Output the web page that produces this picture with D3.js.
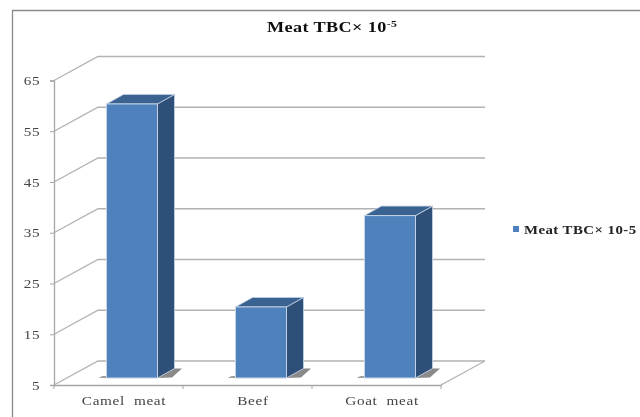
<!DOCTYPE html>
<html>
<head>
<meta charset="utf-8">
<script src="https://cdn.jsdelivr.net/npm/d3@7"></script>
<style>
  html, body { margin: 0; padding: 0; background: #fff; overflow: hidden; }
  svg { display: block; }
  text { font-family: "Liberation Serif", serif; }
</style>
</head>
<body>
<script>
var categories = ["Camel  meat", "Beef", "Goat  meat"];
var values = [59, 19, 37];
var yTicks = [5, 15, 25, 35, 45, 55, 65];
var seriesName = "Meat TBC\u00d7 10-5";

var width = 640, height = 417;
// depth of the 3d box: back wall offset and bar offset
var wallDx = 44, wallDy = -24;
var barDx = 17, barDy = -9.5;
var floorDx = 13.5, floorDy = -7;
var barWidth = 51;
var stretch = 1.22; // the picture's text is wider than it is tall

var xScale = d3.scaleBand().domain(categories).range([54, 441]);
var yScale = d3.scaleLinear().domain([5, 65]).range([385, 80.5]);

var svg = d3.select("body").append("svg")
  .attr("width", width)
  .attr("height", height);

var defs = svg.append("defs");
defs.append("filter").attr("id", "soft")
  .attr("x", "-5%").attr("y", "-5%").attr("width", "110%").attr("height", "110%")
  .append("feGaussianBlur").attr("stdDeviation", 0.5);
defs.append("filter").attr("id", "shadowBlur")
  .append("feGaussianBlur").attr("stdDeviation", 0.7);

var chart = svg.append("g").attr("filter", "url(#soft)");

// outer frame, runs off the picture at right and bottom
chart.append("path")
  .attr("d", "M12.5,430V10.5H660")
  .attr("fill", "none")
  .attr("stroke", "#8a8a8a")
  .attr("stroke-width", 1.3);

// title
var title = chart.append("text")
  .attr("transform", "translate(267,32) scale(1.3,1)")
  .attr("font-size", 14)
  .attr("font-weight", "bold")
  .attr("letter-spacing", 0.3)
  .attr("fill", "#111")
  .text("Meat TBC\u00d7 10");
title.append("tspan")
  .attr("dy", -5)
  .attr("font-size", 9)
  .text("-5");

// gridlines on side wall and back wall
var right = xScale.range()[1];
chart.append("g").selectAll("path").data(yTicks).enter()
  .append("path")
  .attr("d", function(d) {
    return "M54," + yScale(d) + "L" + (54 + wallDx) + "," + (yScale(d) + wallDy) + "H" + (right + wallDx);
  })
  .attr("fill", "none")
  .attr("stroke", "#b2b2b2")
  .attr("stroke-width", 1.3);

// floor edge on the right
chart.append("path")
  .attr("d", "M" + right + "," + yScale(5) + "L" + (right + wallDx) + "," + (yScale(5) + wallDy))
  .attr("fill", "none")
  .attr("stroke", "#b2b2b2")
  .attr("stroke-width", 1.3);

// axes
var yAxis = d3.axisLeft(yScale).tickValues(yTicks).tickSize(4).tickPadding(6);
var yG = chart.append("g").attr("transform", "translate(54,0)").call(yAxis);
yG.selectAll("text")
  .attr("x", -14 / stretch)
  .attr("transform", "scale(" + stretch + ",1)")
  .attr("font-size", 12.5)
  .attr("letter-spacing", 0.4)
  .attr("fill", "#444")
  .style("font-family", "Liberation Serif");

var xAxis = d3.axisBottom(xScale).tickSize(0).tickPadding(11);
var xG = chart.append("g").attr("transform", "translate(0," + yScale(5) + ")").call(xAxis);
xG.selectAll("text")
  .attr("transform", "scale(" + stretch + ",1)")
  .attr("font-size", 12.5)
  .attr("letter-spacing", 0.55)
  .attr("fill", "#444")
  .attr("dx", 5.5 / stretch)
  .style("font-family", "Liberation Serif")
  .style("white-space", "pre");
chart.selectAll(".domain").attr("stroke", "#a6a6a6").attr("stroke-width", 1.3);
yG.selectAll("line").attr("stroke", "#a6a6a6");

// x ticks sit between the categories
var edges = categories.map(function(c) { return xScale(c); }).concat([right]);
chart.append("g").selectAll("line").data(edges).enter()
  .append("line")
  .attr("x1", function(d) { return d; })
  .attr("x2", function(d) { return d; })
  .attr("y1", yScale(5))
  .attr("y2", yScale(5) + 4)
  .attr("stroke", "#a6a6a6");

// bars
function barLeft(d, i) { return xScale(categories[i]) + xScale.bandwidth() / 2 - barWidth / 2 + floorDx; }
var floorY = yScale(5) + floorDy;

var bars = chart.append("g").selectAll("g").data(values).enter().append("g")
  .attr("transform", function(d, i) { return "translate(" + barLeft(d, i) + ",0)"; });

// floor shadow
bars.append("path")
  .attr("d", "M" + barWidth + "," + floorY + "l" + barDx + "," + barDy + "h7.5l-10,9z")
  .attr("fill", "#8a8a8a")
  .attr("filter", "url(#shadowBlur)");
bars.append("path")
  .attr("d", "M-8," + floorY + "l4,-2h4v2z")
  .attr("fill", "#a0a0a0")
  .attr("filter", "url(#shadowBlur)");

// side face
bars.append("path")
  .attr("d", function(d) {
    return "M" + barWidth + "," + yScale(d + 1.38) + "l" + barDx + "," + barDy + "V" + (floorY + barDy) + "L" + barWidth + "," + floorY + "z";
  })
  .attr("fill", "#2f5078")
  .attr("stroke", "#c4d2e4")
  .attr("stroke-width", 0.8);

// top face
bars.append("path")
  .attr("d", function(d) {
    var t = yScale(d + 1.38);
    return "M0," + t + "l" + barDx + "," + barDy + "h" + barWidth + "l" + (-barDx) + "," + (-barDy) + "z";
  })
  .attr("fill", "#3b6391")
  .attr("stroke", "#c4d2e4")
  .attr("stroke-width", 0.8);

// front face
bars.append("rect")
  .attr("x", 0)
  .attr("y", function(d) { return yScale(d + 1.38); })
  .attr("width", barWidth)
  .attr("height", function(d) { return floorY - yScale(d + 1.38); })
  .attr("fill", "#4f81bd")
  .attr("stroke", "#c4d2e4")
  .attr("stroke-width", 1);

// legend
chart.append("rect")
  .attr("x", 513).attr("y", 226)
  .attr("width", 6).attr("height", 6)
  .attr("fill", "#4f81bd");
chart.append("text")
  .attr("transform", "translate(524,233.5) scale(1.24,1)")
  .attr("font-size", 12)
  .attr("font-weight", "bold")
  .attr("letter-spacing", 0.35)
  .attr("fill", "#222")
  .text(seriesName);
</script>
</body>
</html>
